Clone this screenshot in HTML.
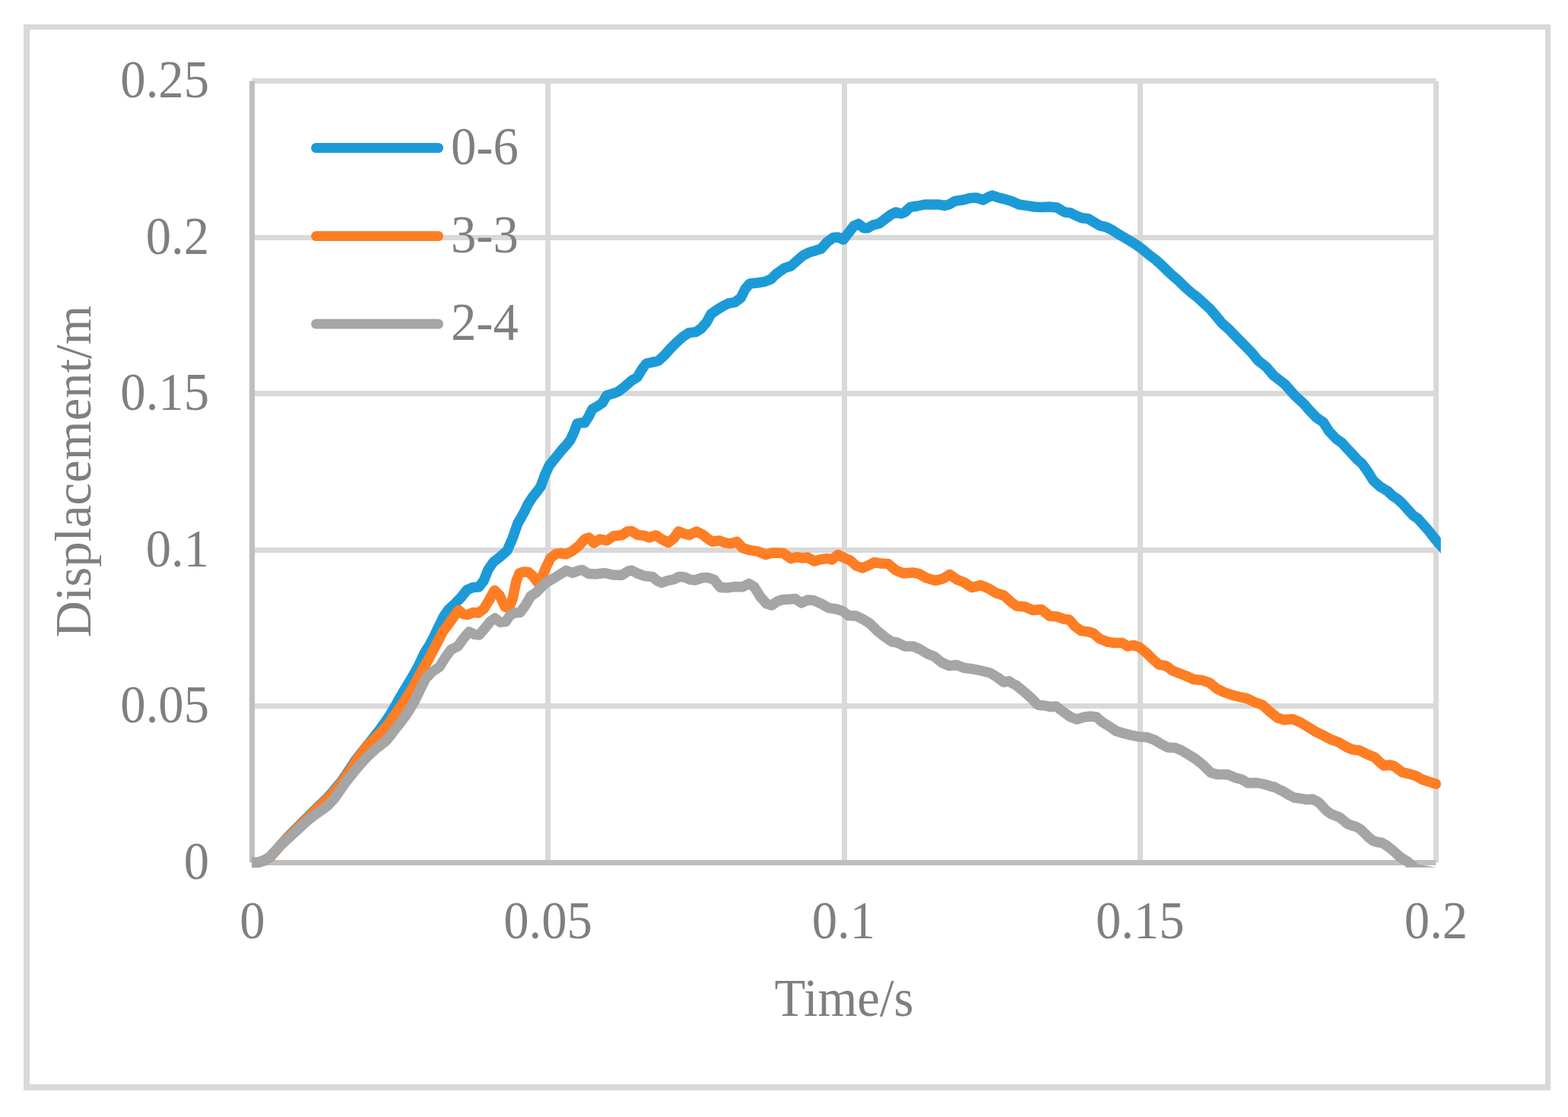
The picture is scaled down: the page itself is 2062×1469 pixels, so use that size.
<!DOCTYPE html>
<html lang="en">
<head>
<meta charset="utf-8">
<title>Displacement vs Time</title>
<style>
html,body{margin:0;padding:0;background:#fff;}
body{width:2062px;height:1469px;overflow:hidden;}
svg{display:block;}
text{font-family:"Liberation Serif","Times New Roman",Times,serif;font-size:66.67px;fill:#7f7f7f;}
.g{stroke:#d9d9d9;stroke-width:7;fill:none;}
.ax{stroke:#bfbfbf;stroke-width:7;fill:none;}
.c{fill:none;stroke-width:13.5;stroke-linejoin:round;stroke-linecap:round;}
.lg{fill:none;stroke-width:13.2;stroke-linecap:round;}
</style>
</head>
<body>
<svg width="2062" height="1469" viewBox="0 0 2062 1469">
<rect x="0" y="0" width="2062" height="1469" fill="#ffffff"/>
<!-- chart area border -->
<path fill="#d9d9d9" fill-rule="evenodd" d="M31,32H2039V1434H31Z M39,39V1426H2032V39Z"/>
<!-- gridlines -->
<g class="g">
<line x1="331.5" y1="928.5" x2="1888.5" y2="928.5"/>
<line x1="331.5" y1="723.5" x2="1888.5" y2="723.5"/>
<line x1="331.5" y1="517.5" x2="1888.5" y2="517.5"/>
<line x1="331.5" y1="312.5" x2="1888.5" y2="312.5"/>
<line x1="331.5" y1="106.5" x2="1888.5" y2="106.5"/>
<line x1="720.5" y1="106.5" x2="720.5" y2="1134.5"/>
<line x1="1110.5" y1="106.5" x2="1110.5" y2="1134.5"/>
<line x1="1499.5" y1="106.5" x2="1499.5" y2="1134.5"/>
<line x1="1888.5" y1="106.5" x2="1888.5" y2="1134.5"/>
</g>
<!-- axes -->
<g class="ax">
<line x1="331.5" y1="106.5" x2="331.5" y2="1134.5"/>
<line x1="331.5" y1="1134.5" x2="1888.5" y2="1134.5"/>
</g>
<!-- series -->
<clipPath id="pc"><rect x="331" y="99" width="1563.8" height="1041.7"/></clipPath>
<g clip-path="url(#pc)">
<path class="c" stroke="#1c9ad8" d="M331.4,1134.4 L339.4,1134.3 L347.4,1131.7 L355.2,1127.1 L368.4,1112.3 L379.2,1099.9 L385.6,1093.5 L391.9,1087.2
L398.3,1080.8 L404.7,1074.4 L411.1,1068.0 L417.4,1061.7 L423.8,1055.7 L430.2,1049.6 L436.5,1042.6 L442.9,1034.9
L449.3,1027.3 L455.7,1017.7 L462.0,1008.2 L468.4,998.6 L480.4,983.3 L486.8,975.4 L493.1,967.6 L499.5,959.3
L505.9,950.4 L512.3,940.9 L518.6,930.5 L525.0,919.0 L531.4,908.1 L537.7,897.7 L544.1,887.0 L550.5,875.4
L558.1,859.0 L564.5,849.0 L570.8,837.2 L577.2,823.4 L583.6,810.5 L590.0,801.3 L596.3,796.0 L606.0,786.0
L614.0,776.0 L622.0,772.4 L629.6,772.0 L636.0,764.0 L642.0,749.0 L649.0,739.0 L658.0,732.0 L667.0,724.0
L674.0,708.0 L681.0,688.0 L688.7,674.7 L694.3,663.1 L699.9,654.3 L705.4,647.5 L711.0,639.9 L716.6,624.6
L722.2,612.4 L727.7,605.6 L733.3,598.6 L738.9,591.6 L744.5,585.5 L750.0,578.7 L755.0,568.0 L759.0,557.0
L764.0,556.0 L769.0,556.0 L774.0,548.0 L779.0,538.0 L786.0,534.0 L792.0,530.0 L798.0,520.0 L806.0,517.6
L813.0,515.0 L822.0,508.0 L830.0,501.0 L838.0,496.0 L844.0,486.0 L850.0,478.0 L858.0,476.4 L866.0,474.4
L874.0,467.0 L882.0,458.0 L890.0,450.0 L898.0,443.0 L906.0,437.6 L915.0,436.6 L922.0,432.0 L929.0,424.0
L935.0,413.0 L942.0,408.0 L950.0,403.0 L958.0,399.0 L966.0,397.6 L974.0,392.0 L980.0,380.0 L986.0,373.0
L996.0,372.0 L1006.0,370.4 L1014.0,367.0 L1020.0,361.0 L1024.0,358.0 L1032.0,352.4 L1040.0,350.0 L1048.0,343.0
L1056.0,336.0 L1064.0,332.0 L1072.0,329.6 L1080.0,327.0 L1088.0,318.0 L1096.0,312.4 L1102.0,312.0 L1109.0,315.0
L1116.0,306.0 L1123.0,297.0 L1129.0,294.4 L1136.0,300.0 L1141.0,300.0 L1148.0,296.0 L1156.0,294.0 L1164.0,288.0
L1172.0,282.0 L1178.0,279.0 L1185.0,281.0 L1190.0,279.0 L1197.0,272.4 L1206.0,271.0 L1216.0,269.0 L1226.0,269.0
L1234.0,269.0 L1242.0,270.4 L1248.0,269.0 L1256.0,264.4 L1266.0,263.0 L1276.0,260.4 L1284.0,260.0 L1293.0,263.0
L1300.0,259.0 L1305.0,257.0 L1312.0,259.6 L1320.0,261.6 L1330.0,264.4 L1340.0,269.0 L1350.0,270.4 L1360.0,272.0
L1370.0,272.4 L1380.0,272.0 L1390.0,273.0 L1400.0,279.0 L1408.0,280.0 L1414.7,283.4 L1422.7,286.8 L1430.7,287.4
L1438.7,292.2 L1446.7,296.8 L1454.7,298.6 L1462.7,302.6 L1470.7,307.9 L1478.7,312.5 L1486.7,317.3 L1494.7,322.2
L1502.7,328.1 L1510.7,334.8 L1518.7,340.8 L1526.7,347.9 L1534.7,355.7 L1542.7,363.1 L1550.7,369.9 L1558.7,378.0
L1566.7,385.0 L1574.7,391.1 L1582.7,398.5 L1590.7,405.7 L1598.7,415.0 L1606.7,424.8 L1614.7,431.8 L1622.7,439.9
L1630.7,448.2 L1638.7,456.2 L1645.8,463.5 L1654.7,474.4 L1659.2,477.8 L1664.8,482.2 L1675.0,494.0 L1689.4,505.0
L1696.4,513.0 L1702.8,520.2 L1714.8,531.2 L1721.2,538.8 L1731.0,549.0 L1740.4,555.6 L1747.6,567.0 L1757.0,577.0
L1765.0,582.6 L1769.8,588.2 L1777.6,596.4 L1785.2,604.8 L1790.8,609.2 L1799.4,621.4 L1806.0,632.0 L1815.0,640.0
L1825.0,646.0 L1832.2,652.8 L1837.8,656.2 L1844.0,662.0 L1858.2,677.8 L1864.8,682.2 L1877.4,696.4 L1889.0,711.0
L1899.4,722.8 L1908.0,732.0"/>
<path class="c" stroke="#ff7d23" d="M331.4,1134.4 L339.4,1134.3 L347.4,1131.8 L355.2,1127.2 L368.4,1112.2 L379.1,1100.6 L385.5,1094.4 L391.9,1088.1
L398.2,1081.8 L404.6,1075.5 L411.0,1069.3 L417.3,1063.0 L423.7,1057.0 L430.1,1051.0 L436.5,1044.2 L442.8,1036.7
L449.2,1029.2 L455.6,1019.9 L462.0,1010.4 L468.3,1000.9 L480.2,984.0 L486.6,977.2 L493.0,970.8 L499.4,964.4
L505.7,957.9 L512.1,950.2 L518.5,941.0 L524.8,931.8 L531.2,922.7 L537.6,913.1 L544.0,902.3 L550.3,890.5
L556.7,878.8 L563.1,868.0 L575.8,843.6 L582.2,831.0 L588.6,822.5 L594.9,813.7 L603.0,802.4 L609.0,807.6
L615.0,808.4 L622.0,805.6 L629.0,806.0 L636.0,801.0 L643.0,789.6 L650.4,776.4 L657.0,783.0 L664.0,798.0
L669.0,800.0 L674.0,788.0 L679.0,764.0 L683.0,754.0 L689.0,752.0 L695.0,752.4 L701.0,758.0 L707.0,766.0
L713.0,758.0 L718.0,746.0 L724.0,734.0 L731.0,728.4 L737.0,727.6 L744.0,728.8 L752.0,725.0 L761.0,718.0
L769.0,709.0 L774.4,707.0 L781.0,714.0 L789.0,709.0 L798.0,711.0 L807.0,705.0 L818.0,703.6 L825.0,699.0
L830.4,698.4 L839.0,703.6 L847.0,704.4 L853.6,707.0 L862.4,704.0 L871.0,709.6 L879.0,713.6 L886.0,708.0
L892.4,699.0 L900.0,702.0 L906.4,703.6 L916.0,699.0 L924.0,703.0 L929.9,707.8 L937.0,712.4 L946.0,711.0
L953.0,713.6 L960.0,715.0 L969.0,712.4 L977.0,721.0 L986.0,723.6 L996.0,725.0 L1007.0,729.6 L1016.0,727.0
L1030.0,727.4 L1040.0,734.6 L1048.0,732.4 L1055.0,734.0 L1062.0,733.0 L1071.0,738.0 L1080.0,735.6 L1088.0,734.4
L1094.0,736.0 L1102.0,729.6 L1110.0,733.6 L1118.0,737.0 L1126.0,744.0 L1134.0,747.0 L1142.0,743.6 L1150.0,739.6
L1158.0,741.0 L1168.0,741.6 L1178.0,750.0 L1188.0,754.0 L1200.0,753.0 L1208.0,754.4 L1218.0,760.0 L1230.0,763.6
L1240.0,761.0 L1249.0,755.6 L1258.0,762.0 L1268.0,766.0 L1278.0,772.6 L1290.0,769.6 L1300.0,774.0 L1310.0,780.0
L1320.0,783.0 L1329.9,792.0 L1337.0,797.0 L1348.0,798.0 L1358.0,802.4 L1370.0,801.6 L1380.0,810.0 L1390.0,811.0
L1400.0,814.4 L1406.0,815.0 L1414.0,824.0 L1422.0,829.6 L1432.0,831.0 L1438.0,833.0 L1446.0,840.0 L1456.0,844.0
L1466.0,845.6 L1476.0,845.6 L1483.0,850.0 L1491.0,848.4 L1499.0,851.6 L1508.0,859.0 L1516.0,867.0 L1524.0,874.0
L1533.0,875.6 L1542.0,882.0 L1552.0,886.0 L1560.0,889.0 L1570.0,893.6 L1580.0,894.4 L1590.0,897.6 L1600.0,905.6
L1610.0,910.5 L1620.0,914.0 L1630.0,916.5 L1640.0,918.7 L1650.0,923.5 L1660.0,927.0 L1670.0,936.0 L1680.0,944.0
L1688.0,946.7 L1700.0,945.8 L1710.0,950.0 L1720.0,956.0 L1730.9,962.7 L1740.0,967.0 L1750.0,972.4 L1760.0,976.0
L1770.0,982.0 L1778.0,985.6 L1788.0,987.0 L1798.0,992.0 L1808.0,996.0 L1814.0,1002.0 L1820.0,1007.0
L1828.0,1006.0 L1834.0,1008.0 L1844.0,1015.6 L1854.0,1018.0 L1862.0,1020.4 L1870.0,1025.0 L1880.0,1028.4
L1888.6,1031.0"/>
<path class="c" stroke="#a5a5a5" d="M331.4,1134.4 L339.4,1134.2 L347.4,1131.4 L355.0,1126.6 L368.4,1112.4 L381.8,1100.1 L388.1,1094.1 L394.5,1088.2
L400.9,1082.3 L407.2,1076.9 L413.6,1072.0 L420.0,1067.5 L426.4,1063.0 L432.7,1057.8 L439.1,1050.8 L445.5,1042.0
L451.9,1032.5 L458.2,1024.2 L464.6,1016.2 L471.0,1008.3 L477.3,1001.5 L483.7,994.7 L494.4,984.6 L500.8,979.8
L507.2,974.7 L513.5,967.1 L519.9,958.7 L526.3,950.8 L532.7,942.2 L539.0,932.5 L545.4,921.6 L551.8,908.3
L560.0,892.0 L569.0,883.0 L578.0,877.0 L586.0,864.0 L593.0,854.4 L602.0,850.0 L610.0,839.0 L617.0,831.0
L624.0,834.4 L630.0,835.0 L637.0,827.0 L645.0,817.0 L651.0,813.0 L658.0,818.4 L665.0,817.6 L671.0,809.0
L677.0,806.0 L684.0,805.6 L691.0,796.0 L698.0,784.0 L705.0,779.4 L712.0,772.0 L720.0,765.0 L728.0,760.6
L736.0,755.6 L744.4,750.4 L753.0,753.4 L762.0,750.0 L766.0,749.6 L773.6,754.4 L784.0,755.0 L795.0,753.6
L806.0,756.0 L818.0,756.4 L826.0,751.0 L830.4,750.0 L839.0,754.4 L848.0,757.6 L858.0,758.4 L864.0,763.6
L870.0,766.4 L878.0,763.6 L886.0,762.0 L893.0,758.4 L900.0,759.0 L908.0,762.4 L914.0,763.0 L923.0,760.0
L930.9,759.6 L939.0,762.4 L947.0,772.4 L956.0,773.0 L966.0,771.6 L976.0,772.0 L985.0,767.6 L992.0,772.0
L1000.0,785.0 L1008.0,794.0 L1015.0,796.0 L1022.0,791.0 L1030.0,788.4 L1040.0,788.0 L1046.0,787.6 L1054.0,793.0
L1062.0,789.0 L1070.0,789.6 L1080.0,794.0 L1090.0,799.6 L1100.0,801.0 L1108.0,803.6 L1116.0,809.6 L1126.0,810.0
L1136.0,815.0 L1144.0,820.0 L1154.0,830.0 L1164.0,838.0 L1173.0,844.0 L1180.0,845.0 L1190.0,850.0 L1201.0,850.0
L1210.0,854.0 L1220.0,860.0 L1229.0,863.6 L1238.0,871.0 L1248.0,875.6 L1258.0,874.4 L1268.0,878.4 L1278.0,879.6
L1290.0,882.0 L1302.0,885.0 L1312.0,891.0 L1320.0,897.0 L1327.0,895.8 L1331.8,899.0 L1336.0,901.0 L1346.0,909.0
L1356.0,918.0 L1365.0,927.0 L1374.0,928.0 L1382.0,929.6 L1389.0,929.0 L1398.0,936.0 L1408.0,943.0 L1416.0,946.0
L1426.0,943.0 L1434.0,942.0 L1442.0,943.0 L1450.0,950.0 L1460.0,956.0 L1468.0,961.6 L1478.0,964.4 L1488.0,967.0
L1498.0,969.0 L1508.0,969.4 L1518.0,973.0 L1528.0,979.0 L1536.0,983.0 L1546.0,983.6 L1554.0,987.0 L1564.0,993.0
L1572.0,998.0 L1582.0,1006.0 L1592.0,1016.0 L1600.0,1018.4 L1608.0,1018.4 L1615.0,1018.7 L1624.0,1022.7
L1633.0,1025.0 L1641.0,1029.8 L1653.0,1029.5 L1663.0,1031.5 L1672.0,1034.4 L1676.0,1035.0 L1682.0,1038.4
L1686.0,1040.0 L1692.0,1043.6 L1696.0,1046.0 L1702.0,1049.0 L1710.0,1050.0 L1718.0,1051.6 L1726.0,1051.0
L1734.0,1055.0 L1744.4,1066.3 L1750.0,1070.2 L1755.5,1072.4 L1761.1,1074.6 L1766.7,1079.1 L1772.3,1083.7
L1777.8,1085.7 L1783.4,1087.2 L1789.0,1090.5 L1794.6,1095.8 L1800.1,1101.4 L1805.7,1105.8 L1811.3,1107.5
L1816.9,1108.3 L1822.4,1111.2 L1828.0,1115.5 L1833.6,1120.0 L1839.2,1125.4 L1844.7,1129.3 L1850.3,1132.5
L1855.9,1137.6 L1861.5,1142.9 L1867.0,1143.9 L1872.6,1144.9 L1878.2,1145.7 L1884.5,1146.8 L1889.5,1147.9
L1896.0,1149.5"/>
</g>
<!-- y axis tick labels -->
<text transform="translate(275,127.9) scale(1,1.055)" text-anchor="end">0.25</text>
<text transform="translate(275,333.9) scale(1,1.055)" text-anchor="end">0.2</text>
<text transform="translate(275,538.9) scale(1,1.055)" text-anchor="end">0.15</text>
<text transform="translate(275,744.9) scale(1,1.055)" text-anchor="end">0.1</text>
<text transform="translate(275,949.9) scale(1,1.055)" text-anchor="end">0.05</text>
<text transform="translate(275,1155.9) scale(1,1.055)" text-anchor="end">0</text>
<!-- x axis tick labels -->
<text transform="translate(331.8,1233.7) scale(1,1.055)" text-anchor="middle">0</text>
<text transform="translate(720.5,1233.7) scale(1,1.055)" text-anchor="middle">0.05</text>
<text transform="translate(1109.3,1233.7) scale(1,1.055)" text-anchor="middle">0.1</text>
<text transform="translate(1499.3,1233.7) scale(1,1.055)" text-anchor="middle">0.15</text>
<text transform="translate(1888.5,1233.7) scale(1,1.055)" text-anchor="middle">0.2</text>
<!-- axis titles -->
<text transform="translate(1110,1335.6) scale(1,1.04)" text-anchor="middle">Time/s</text>
<text transform="translate(118.8,620) rotate(-90) scale(1,1.02)" text-anchor="middle">Displacement/m</text>
<!-- legend -->
<line class="lg" stroke="#1c9ad8" x1="415.7" y1="194.5" x2="576.4" y2="194.5"/>
<line class="lg" stroke="#ff7d23" x1="415.7" y1="310.5" x2="576.4" y2="310.5"/>
<line class="lg" stroke="#a5a5a5" x1="415.7" y1="426" x2="576.4" y2="426"/>
<text transform="translate(593,215.7) scale(1,1.055)" text-anchor="start">0-6</text>
<text transform="translate(593,331.8) scale(1,1.055)" text-anchor="start">3-3</text>
<text transform="translate(593,447.4) scale(1,1.055)" text-anchor="start">2-4</text>
</svg>
</body>
</html>
